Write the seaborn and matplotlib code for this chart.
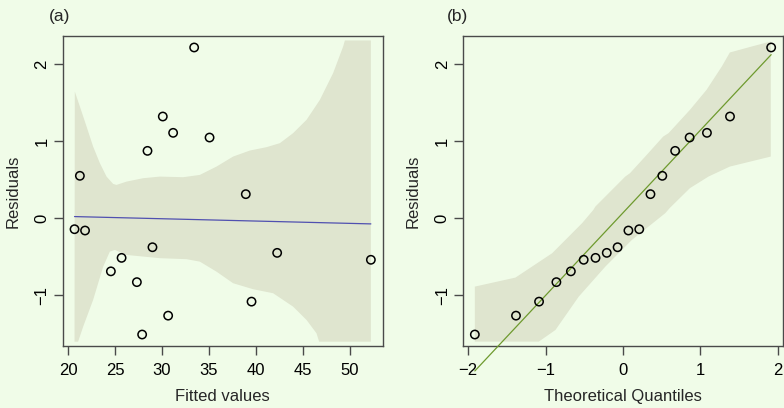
import matplotlib
matplotlib.use("Agg")
import matplotlib.pyplot as plt
import numpy as np
import pandas as pd
import seaborn as sns

# Residuals against fitted values (one observation per point)
fitted = [20.68, 21.25, 21.80, 24.55, 25.69, 27.32, 27.88, 28.45, 28.98,
          30.08, 30.65, 31.18, 33.42, 35.06, 38.92, 39.53, 42.26, 52.24]
residuals = [-0.143, 0.55, -0.16, -0.69, -0.515, -0.83, -1.51, 0.874, -0.377,
             1.32, -1.265, 1.108, 2.216, 1.047, 0.312, -1.083, -0.45, -0.54]

# Linear trend through the residuals
trend_x = [20.68, 52.24]
trend_y = [0.021, -0.074]

# Smoother envelope for panel (a)
band_a_upper_x = [20.68, 20.71, 21.25, 21.96, 22.66, 23.38, 24.09, 24.79, 25.15,
                  26.22, 27.99, 29.77, 32.25, 34.03, 35.80, 37.57, 39.35, 41.13,
                  42.55, 43.96, 45.39, 46.81, 48.22, 49.29, 49.47, 52.24]
band_a_upper_y = [-1.603, 1.644, 1.449, 1.190, 0.930, 0.714, 0.540, 0.445, 0.432,
                  0.475, 0.519, 0.540, 0.532, 0.562, 0.670, 0.800, 0.878, 0.922,
                  0.974, 1.104, 1.277, 1.536, 1.883, 2.229, 2.307, 2.307]
band_a_lower_x = [20.68, 21.06, 21.60, 22.66, 23.73, 24.44, 24.97, 26.22, 29.77,
                  32.61, 34.03, 35.80, 37.57, 39.70, 41.83, 43.96, 45.39, 46.45,
                  46.73, 52.24]
band_a_lower_y = [-1.603, -1.603, -1.408, -1.061, -0.629, -0.434, -0.412, -0.477,
                  -0.519, -0.532, -0.564, -0.694, -0.844, -0.922, -0.974, -1.148,
                  -1.321, -1.494, -1.603, -1.603]

# Normal quantiles for 18 observations
theoretical_q = [-1.915, -1.383, -1.085, -0.861, -0.674, -0.508, -0.355, -0.210,
                 -0.070, 0.070, 0.210, 0.355, 0.508, 0.674, 0.861, 1.085, 1.383,
                 1.915]
qq_intercept = 0.070
qq_slope = 1.072

# Confidence envelope for panel (b)
band_b_upper_x = [-1.915, -1.39, -0.916, -0.529, -0.383, -0.357, 0.030, 0.090,
                  0.288, 0.520, 0.589, 0.865, 1.080, 1.277, 1.381, 1.665, 1.910]
band_b_upper_y = [-0.888, -0.771, -0.455, -0.065, 0.108, 0.151, 0.541, 0.584,
                  0.801, 1.060, 1.104, 1.406, 1.666, 1.969, 2.151, 2.229, 2.294]
band_b_lower_x = [-1.915, -1.088, -0.873, -0.572, -0.228, 0.116, 0.546, 0.606,
                  0.865, 1.106, 1.381, 1.910]
band_b_lower_y = [-1.602, -1.602, -1.451, -1.018, -0.628, -0.281, 0.065, 0.134,
                  0.390, 0.541, 0.670, 0.800]

x_ticks_a = [20, 25, 30, 35, 40, 45, 50]
x_ticks_b = [-2, -1, 0, 1, 2]
y_ticks = [-1, 0, 1, 2]

BG = "#F0FCE8"
BAND = "#DFE5CF"
FRAME = "#4a4a4a"

sns.set_theme(style="ticks")
plt.rcParams["font.family"] = ["Liberation Sans", "DejaVu Sans"]
plt.rcParams.update({
    "font.size": 12,
    "axes.facecolor": BG,
    "figure.facecolor": BG,
    "axes.edgecolor": FRAME,
    "axes.linewidth": 1.0,
    "xtick.color": FRAME,
    "ytick.color": FRAME,
    "xtick.labelcolor": "black",
    "ytick.labelcolor": "black",
    "xtick.major.size": 6.5,
    "ytick.major.size": 6.5,
    "xtick.major.width": 1.0,
    "ytick.major.width": 1.0,
    "xtick.labelsize": 12,
    "ytick.labelsize": 12,
    "axes.labelsize": 12,
})

fig = plt.figure(figsize=(7.84, 4.08), dpi=100)
W, H = 784, 408
bottom = (H - 346) / H
height = 310 / H
ax1 = fig.add_axes([62.7 / W, bottom, 320 / W, height])
ax2 = fig.add_axes([463 / W, bottom, 320 / W, height])


def envelope(ax, ux, uy, lx, ly):
    xs = list(ux) + list(lx)[::-1]
    ys = list(uy) + list(ly)[::-1]
    ax.fill(xs, ys, color=BAND, lw=0, zorder=1)


def open_points(ax, x, y):
    df = pd.DataFrame({"x": x, "y": y})
    sns.scatterplot(data=df, x="x", y="y", ax=ax, s=36, marker="o",
                    zorder=4, legend=False)
    coll = ax.collections[-1]
    coll.set_facecolor("none")
    coll.set_edgecolor("black")
    coll.set_linewidth(1.1)


def style_axes(ax, xlim, xticks, xlabel):
    ax.set_xlim(*xlim)
    ax.set_ylim(-1.659, 2.365)
    ax.set_xticks(xticks)
    ax.set_yticks(y_ticks)
    ax.set_xticklabels(["\u2212" + str(-t) if t < 0 else str(t) for t in xticks])
    ax.set_yticklabels(["\u2212" + str(-t) if t < 0 else str(t) for t in y_ticks])
    ax.tick_params(axis="y", labelrotation=90, pad=3)
    for lab in ax.get_yticklabels():
        lab.set_va("center")
    ax.tick_params(axis="x", pad=6)
    ax.set_xlabel(xlabel, labelpad=8)
    ax.set_ylabel("Residuals", labelpad=10)
    for sp in ax.spines.values():
        sp.set_visible(True)
        sp.set_color(FRAME)


# Panel (a): residuals vs fitted
envelope(ax1, band_a_upper_x, band_a_upper_y, band_a_lower_x, band_a_lower_y)
sns.lineplot(x=trend_x, y=trend_y, ax=ax1, color="#5050B0", lw=0.9, zorder=3)
open_points(ax1, fitted, residuals)
style_axes(ax1, (19.42, 53.5), x_ticks_a, "Fitted values")

# Panel (b): normal Q-Q plot
envelope(ax2, band_b_upper_x, band_b_upper_y, band_b_lower_x, band_b_lower_y)
q_end = [theoretical_q[0], theoretical_q[-1]]
line_y = [qq_intercept + qq_slope * q for q in q_end]
sns.lineplot(x=q_end, y=line_y, ax=ax2, color="#6E9A2E", lw=0.9, zorder=3)
ax2.lines[-1].set_clip_on(False)
open_points(ax2, theoretical_q, sorted(residuals))
style_axes(ax2, (-2.068, 2.068), x_ticks_b, "Theoretical Quantiles")

fig.text(49 / W, 1 - 17 / H, "(a)", fontsize=12.5, va="center", ha="left")
fig.text(447 / W, 1 - 17 / H, "(b)", fontsize=12.5, va="center", ha="left")

fig.savefig("out.png", dpi=100, facecolor=BG)
